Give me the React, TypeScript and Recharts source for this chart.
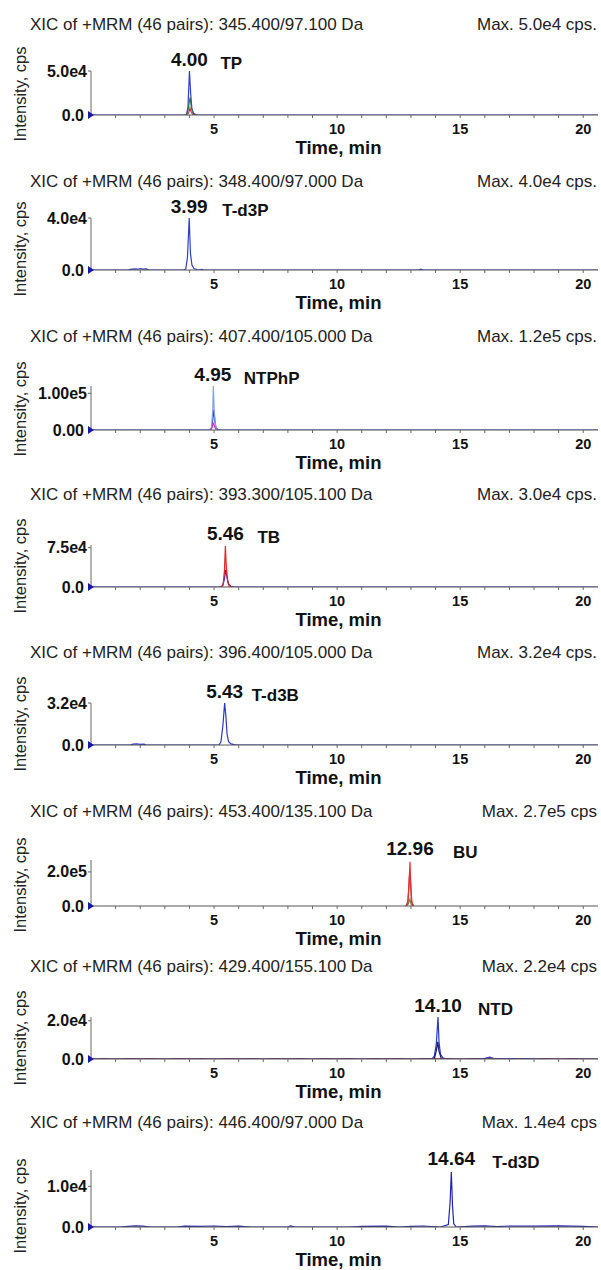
import React from 'react';
import { LineChart, Line, XAxis, YAxis, ReferenceDot } from 'recharts';

type Pt = [number, number];

const FONT = '"Liberation Sans", Arial, sans-serif';
const X_MAX = 20.6;
const minuteTicks = [1, 2, 3, 4, 5, 6, 7, 8, 9, 10, 11, 12, 13, 14, 15, 16, 17, 18, 19, 20];
const labelledMinutes = [5, 10, 15, 20];

const titles = [
  'XIC of +MRM (46 pairs): 345.400/97.100 Da',
  'XIC of +MRM (46 pairs): 348.400/97.000 Da',
  'XIC of +MRM (46 pairs): 407.400/105.000 Da',
  'XIC of +MRM (46 pairs): 393.300/105.100 Da',
  'XIC of +MRM (46 pairs): 396.400/105.000 Da',
  'XIC of +MRM (46 pairs): 453.400/135.100 Da',
  'XIC of +MRM (46 pairs): 429.400/155.100 Da',
  'XIC of +MRM (46 pairs): 446.400/97.000 Da',
];
const maxLabels = [
  'Max. 5.0e4 cps.',
  'Max. 4.0e4 cps.',
  'Max. 1.2e5 cps.',
  'Max. 3.0e4 cps.',
  'Max. 3.2e4 cps.',
  'Max. 2.7e5 cps',
  'Max. 2.2e4 cps',
  'Max. 1.4e4 cps',
];
const compounds = ['TP', 'T-d3P', 'NTPhP', 'TB', 'T-d3B', 'BU', 'NTD', 'T-d3D'];
const retentionTimes = [4.0, 3.99, 4.95, 5.46, 5.43, 12.96, 14.1, 14.64];
const yMaxValues = [5.0e4, 4.0e4, 1.2e5, 8.0e4, 3.2e4, 2.7e5, 2.2e4, 1.4e4];
const yTickValues = [5.0e4, 4.0e4, 1.0e5, 7.5e4, 3.2e4, 2.0e5, 2.0e4, 1.0e4];
const yTickLabels = ['5.0e4', '4.0e4', '1.00e5', '7.5e4', '3.2e4', '2.0e5', '2.0e4', '1.0e4'];
const zeroLabels = ['0.0', '0.0', '0.00', '0.0', '0.0', '0.0', '0.0', '0.0'];

// TP
const tpBlue: Pt[] = [[0, 0], [3.8, 0], [3.88, 500], [3.94, 9000], [4.0, 50000], [4.05, 24000], [4.1, 7000], [4.16, 1800], [4.26, 500], [4.38, 0], [20.6, 0]];
const tpGreen: Pt[] = [[3.84, 0], [3.93, 3000], [3.99, 14000], [4.03, 20000], [4.08, 8000], [4.16, 1500], [4.26, 0]];
const tpRed: Pt[] = [[3.9, 0], [3.97, 2500], [4.02, 8000], [4.07, 3500], [4.14, 600], [4.24, 0]];
// T-d3P
const td3pBlue: Pt[] = [[0, 0], [1.5, 0], [1.6, 500], [1.75, 900], [1.9, 600], [2.0, 1000], [2.1, 700], [2.25, 800], [2.35, 0], [3.75, 0], [3.85, 800], [3.92, 10000], [3.99, 40000], [4.04, 13000], [4.1, 4000], [4.18, 1200], [4.3, 300], [4.4, 0], [4.5, 400], [4.6, 0], [13.3, 0], [13.4, 700], [13.5, 0], [20.6, 0]];
// NTPhP
const ntphpLight: Pt[] = [[4.83, 0], [4.9, 8000], [4.95, 60000], [4.97, 120000], [5.01, 50000], [5.06, 10000], [5.14, 0]];
const ntphpBlue: Pt[] = [[0, 0], [4.82, 0], [4.9, 5000], [4.95, 30000], [4.99, 55000], [5.03, 25000], [5.08, 6000], [5.16, 800], [5.26, 0], [20.6, 0]];
const ntphpMagenta: Pt[] = [[4.85, 0], [4.91, 5000], [4.96, 19000], [5.01, 12000], [5.06, 3000], [5.14, 0]];
// TB
const tbPale: Pt[] = [[5.36, 0], [5.42, 20000], [5.44, 45000], [5.5, 45000], [5.53, 20000], [5.6, 0]];
const tbRed: Pt[] = [[5.3, 0], [5.37, 5000], [5.42, 30000], [5.46, 78000], [5.5, 35000], [5.55, 10000], [5.63, 1500], [5.73, 0]];
const tbBlue: Pt[] = [[0, 0], [5.26, 0], [5.35, 3000], [5.42, 15000], [5.47, 32000], [5.53, 18000], [5.59, 6000], [5.68, 1500], [5.82, 0], [20.6, 0]];
// T-d3B
const td3bBlue: Pt[] = [[0, 0], [1.6, 0], [1.7, 600], [1.85, 800], [2.0, 500], [2.15, 700], [2.25, 0], [5.2, 0], [5.28, 2500], [5.36, 15000], [5.43, 32000], [5.48, 22000], [5.53, 8000], [5.59, 2500], [5.69, 800], [5.82, 300], [5.95, 0], [20.6, 0]];
// BU
const buOlive: Pt[] = [[12.82, 0], [12.9, 15000], [12.96, 40000], [13.0, 12000], [13.08, 0]];
const buDark: Pt[] = [[12.8, 0], [12.88, 30000], [12.94, 180000], [12.98, 150000], [13.02, 30000], [13.09, 0]];
const buRed: Pt[] = [[12.78, 0], [12.87, 10000], [12.92, 120000], [12.96, 260000], [13.0, 100000], [13.04, 20000], [13.11, 0]];
// NTD
const ntdRed: Pt[] = [[0, 0], [0.5, 150], [1, 0], [1.5, 200], [2, 50], [2.5, 180], [3, 0], [3.5, 220], [4, 60], [4.5, 150], [5, 0], [5.5, 200], [6, 80], [6.5, 220], [7, 0], [7.5, 180], [8, 60], [8.5, 200], [9, 0], [9.5, 150], [10, 60], [10.5, 200], [11, 0], [11.5, 180], [12, 50], [12.5, 200], [13, 0], [13.5, 150], [14, 60], [14.5, 180], [15, 0], [15.5, 200], [16, 50], [16.5, 180], [17, 0], [17.5, 150], [18, 60], [18.5, 200], [19, 0], [19.5, 150], [20, 60], [20.6, 0]];
const ntdBlue: Pt[] = [[0, 0], [13.85, 0], [13.95, 1500], [14.03, 8000], [14.1, 22000], [14.14, 9000], [14.2, 2500], [14.3, 600], [14.45, 0], [15.8, 0], [16.0, 300], [16.2, 1000], [16.35, 400], [16.5, 0], [17.2, 200], [17.4, 0], [17.8, 250], [18.0, 0], [20.6, 0]];
const ntdNavy: Pt[] = [[13.95, 0], [14.04, 5000], [14.09, 9000], [14.14, 4000], [14.24, 0]];
// T-d3D
const td3dBlue: Pt[] = [[0, 0], [1.2, 0], [1.5, 150], [1.8, 300], [2.1, 200], [2.4, 0], [3.5, 0], [3.8, 200], [4.5, 150], [5, 250], [5.5, 100], [6, 200], [6.5, 0], [8.0, 0], [8.1, 250], [8.3, 0], [10.5, 0], [11, 150], [12, 200], [12.5, 0], [13, 150], [13.5, 250], [14.2, 0], [14.52, 600], [14.59, 6000], [14.64, 13500], [14.69, 5000], [14.74, 800], [14.84, 0], [15.5, 200], [16, 300], [16.5, 100], [17, 250], [18, 200], [19, 300], [20, 150], [20.6, 0]];

const panelSeries = [
  [{ pts: tpBlue, color: '#2f3fd6' }, { pts: tpGreen, color: '#2a7360' }, { pts: tpRed, color: '#c84040' }],
  [{ pts: td3pBlue, color: '#3040c8' }],
  [{ pts: ntphpBlue, color: '#2040d0' }, { pts: ntphpLight, color: '#7fa4ea' }, { pts: ntphpMagenta, color: '#c438c4' }],
  [{ pts: tbPale, color: '#efb0b0' }, { pts: tbBlue, color: '#2a2ac8' }, { pts: tbRed, color: '#e02828' }],
  [{ pts: td3bBlue, color: '#2a36c8' }],
  [{ pts: buOlive, color: '#7a8a50' }, { pts: buDark, color: '#b02828' }, { pts: buRed, color: '#e83030' }],
  [{ pts: ntdRed, color: '#c02020' }, { pts: ntdBlue, color: '#2838c8' }, { pts: ntdNavy, color: '#141480' }],
  [{ pts: td3dBlue, color: '#2424b4' }],
];

// page layout (pixel rows of title, plot top and zero line)
const panelLayout = [
  { titleY: 25, top: 71, zero: 115, nameDx: 31 },
  { titleY: 182, top: 218, zero: 270, nameDx: 33 },
  { titleY: 337, top: 386, zero: 430, nameDx: 31 },
  { titleY: 495, top: 545, zero: 587, nameDx: 32 },
  { titleY: 653, top: 703, zero: 745, nameDx: 27 },
  { titleY: 812, top: 860, zero: 906, nameDx: 43 },
  { titleY: 967, top: 1017, zero: 1059, nameDx: 40 },
  { titleY: 1123, top: 1170, zero: 1227, nameDx: 41 },
];

const Panel = ({ idx }: { idx: number }) => {
  const L = panelLayout[idx];
  const panelTop = L.titleY - 20;
  const height = L.zero + 42 - panelTop;
  const yMax = yMaxValues[idx];
  const rt = retentionTimes[idx];

  const xTick = (p: any) => {
    const v = p.payload.value;
    if (!labelledMinutes.includes(v)) return <g />;
    return (
      <text x={p.x} y={p.y + 9} textAnchor="middle" dominantBaseline="central" fontFamily={FONT} fontWeight="bold" fontSize={14.5} fill="#111">
        {v}
      </text>
    );
  };
  const yTick = (p: any) => {
    const v = p.payload.value;
    const isZero = v === 0;
    return (
      <text x={isZero ? p.x - 2 : p.x + 1} y={p.y} textAnchor="end" dominantBaseline="central" fontFamily={FONT} fontWeight="bold" fontSize={16} fill="#111">
        {isZero ? zeroLabels[idx] : yTickLabels[idx]}
      </text>
    );
  };
  const intensityLabel = (p: any) => {
    const vb = p.viewBox;
    const cy = vb.y + vb.height - 21;
    return (
      <text x={20} y={cy} transform={`rotate(-90 20 ${cy})`} textAnchor="middle" dominantBaseline="central" fontFamily={FONT} fontSize={16.5} fill="#222">
        Intensity, cps
      </text>
    );
  };
  const timeLabel = (p: any) => {
    const vb = p.viewBox;
    return (
      <text x={vb.x + vb.width / 2 - 6} y={vb.y + 32} textAnchor="middle" dominantBaseline="central" fontFamily={FONT} fontWeight="bold" fontSize={18.5} fill="#111">
        Time, min
      </text>
    );
  };
  const marker = (p: any) => (
    <polygon points={`${p.cx - 3},${p.cy - 4} ${p.cx + 3},${p.cy} ${p.cx - 3},${p.cy + 4}`} fill="#1818a8" />
  );
  const peakLabel = (p: any) => (
    <g fontFamily={FONT} fontWeight="bold" fill="#111">
      <text x={p.cx} y={p.cy - 12} textAnchor="middle" dominantBaseline="central" fontSize={19}>
        {rt.toFixed(2)}
      </text>
      <text x={p.cx + L.nameDx} y={p.cy - 8} textAnchor="start" dominantBaseline="central" fontSize={17}>
        {compounds[idx]}
      </text>
    </g>
  );

  return (
    <div style={{ position: 'absolute', left: 0, top: panelTop, width: 601, height }}>
      <div style={{ position: 'absolute', left: 30, top: 10, lineHeight: '20px', fontFamily: FONT, fontSize: 17, color: '#222', whiteSpace: 'nowrap' }}>
        {titles[idx]}
      </div>
      <div style={{ position: 'absolute', right: 4, top: 10, lineHeight: '20px', fontFamily: FONT, fontSize: 17, color: '#222', whiteSpace: 'nowrap' }}>
        {maxLabels[idx]}
      </div>
      <LineChart width={601} height={height} margin={{ top: L.top - panelTop, right: 3, bottom: 2, left: 0 }}>
        <XAxis
          type="number"
          dataKey="t"
          domain={[0, X_MAX]}
          allowDataOverflow
          ticks={minuteTicks}
          interval={0}
          height={40}
          tickSize={3}
          tickLine={{ stroke: '#666' }}
          axisLine={{ stroke: '#555' }}
          tick={xTick}
          label={{ content: timeLabel }}
        />
        <YAxis
          type="number"
          dataKey="v"
          domain={[0, yMax]}
          allowDataOverflow
          ticks={[0, yTickValues[idx]]}
          interval={0}
          width={91}
          tickSize={3}
          tickLine={{ stroke: '#666' }}
          axisLine={{ stroke: '#666' }}
          tick={yTick}
          label={{ content: intensityLabel }}
        />
        {panelSeries[idx].map((s, k) => (
          <Line
            key={k}
            data={s.pts.map(([t, v]) => ({ t, v }))}
            dataKey="v"
            type="linear"
            stroke={s.color}
            strokeWidth={1.2}
            dot={false}
            activeDot={false}
            isAnimationActive={false}
          />
        ))}
        <ReferenceDot x={0} y={0} ifOverflow="visible" shape={marker} />
        <ReferenceDot x={rt} y={yMax} ifOverflow="visible" shape={peakLabel} />
      </LineChart>
    </div>
  );
};

export default function App() {
  return (
    <div style={{ position: 'absolute', left: 0, top: 0, width: 601, height: 1270, background: '#fff' }}>
      {panelLayout.map((_, i) => (
        <Panel key={i} idx={i} />
      ))}
    </div>
  );
}
